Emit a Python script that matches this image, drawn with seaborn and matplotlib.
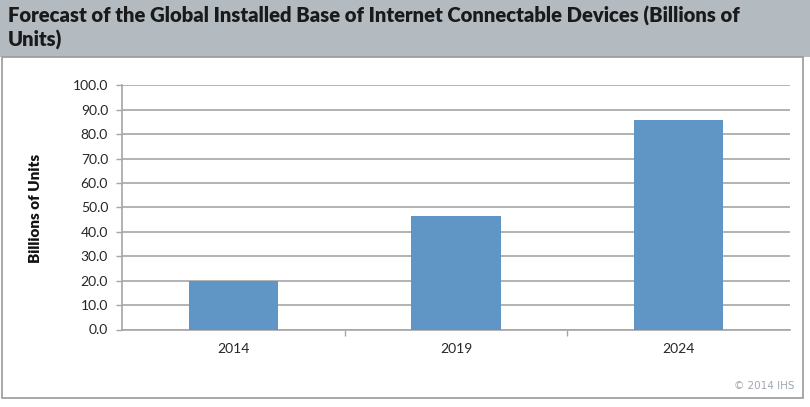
import matplotlib
matplotlib.use("Agg")
import matplotlib.pyplot as plt
import seaborn as sns
import pandas as pd
from matplotlib.patches import Rectangle

years = ["2014", "2019", "2024"]
values = [19.7, 46.5, 85.9]
yticks = [0, 10, 20, 30, 40, 50, 60, 70, 80, 90, 100]
title = "Forecast of the Global Installed Base of Internet Connectable Devices (Billions of\nUnits)"
ylabel = "Billions of Units"
credit = "© 2014 IHS"

sns.set_theme(style="white")
plt.rcParams['font.family'] = ['Lato', 'DejaVu Sans']

fig = plt.figure(figsize=(8.1, 4.07), dpi=100)
W, H = 810, 407

# title band and frame
fig.patches.append(Rectangle((0, 1 - 57 / H), 1, 57 / H, transform=fig.transFigure,
                             facecolor="#b3bbc1", edgecolor="none", zorder=-2))
fig.patches.append(Rectangle((2 / W, 1 - 398 / H), 801 / W, (398 - 57) / H, transform=fig.transFigure,
                             facecolor="white", edgecolor="#9a9a9a", lw=1.2, zorder=-2))
fig.text(8 / W, 1 - 6 / H, title, ha="left", va="top", fontsize=14.6, fontweight="heavy",
         color="#1a1a1a", linespacing=1.25)

ax = fig.add_axes([122 / W, 1 - 329.5 / H, (790 - 122) / W, (329.5 - 85.3) / H])
ax.set_zorder(2)
ax.patch.set_alpha(0)
df = pd.DataFrame({"year": years, "value": values})
sns.barplot(data=df, x="year", y="value", color="#5f96c5", saturation=1, width=0.4, ax=ax,
            zorder=3, linewidth=0)

ax.set_ylim(0, 100)
ax.set_xlim(-0.5, 2.5)
ax.set_yticks(yticks)
ax.set_yticklabels([f"{v:.1f}" for v in yticks], fontsize=10)
ax.yaxis.grid(True, color="#a6a6a6", lw=1.2, zorder=0)
ax.set_axisbelow(True)
ax.tick_params(axis="y", length=4, width=1, color="#a6a6a6", direction="out", pad=6, left=True)
ax.tick_params(axis="x", which="major", length=0, pad=10, labelsize=10)
ax.set_xticks([0.5, 1.5], minor=True)
ax.tick_params(axis="x", which="minor", length=4, width=1, color="#a6a6a6", direction="out", bottom=True)
for s in ["top", "right"]:
    ax.spines[s].set_visible(False)
for s in ["left", "bottom"]:
    ax.spines[s].set_color("#a6a6a6")
    ax.spines[s].set_linewidth(1.2)
ax.set_xlabel("")
ax.set_ylabel("")
fig.text(36 / W, 1 - 208 / H, ylabel, rotation=90, ha="center", va="center",
         fontsize=11, fontweight="heavy", color="#111111")
fig.text(795 / W, 1 - 386 / H, credit, ha="right", va="center", fontsize=7.5, color="#a0a8b0",
         family=["DejaVu Sans"])

fig.savefig("out.png", dpi=100)
